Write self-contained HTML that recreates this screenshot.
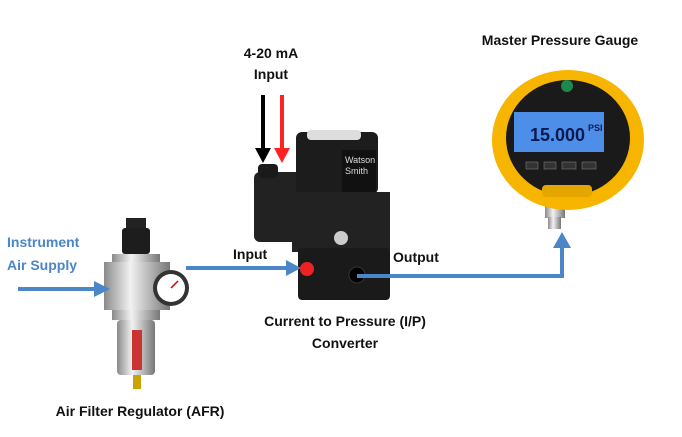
<!DOCTYPE html>
<html><head><style>
html,body{margin:0;padding:0;background:#fff;}
svg{display:block;}
text{font-family:"Liberation Sans",sans-serif;font-weight:bold;font-size:14px;fill:#111;}
</style></head><body>
<svg width="682" height="437" viewBox="0 0 682 437">
<defs>
<linearGradient id="met" x1="0" x2="1"><stop offset="0" stop-color="#8a8a8a"/><stop offset=".4" stop-color="#f2f2f2"/><stop offset="1" stop-color="#777"/></linearGradient>
</defs>
<text x="7" y="247" style="fill:#4a86c8">Instrument</text>
<text x="7" y="270" style="fill:#4a86c8">Air Supply</text>
<text x="271" y="58" text-anchor="middle">4-20 mA</text>
<text x="271" y="79" text-anchor="middle">Input</text>
<text x="560" y="45" text-anchor="middle">Master Pressure Gauge</text>
<text x="233" y="259">Input</text>
<text x="393" y="262">Output</text>
<text x="345" y="326" text-anchor="middle">Current to Pressure (I/P)</text>
<text x="345" y="348" text-anchor="middle">Converter</text>
<text x="140" y="416" text-anchor="middle">Air Filter Regulator (AFR)</text>

<!-- AFR -->
<rect x="126" y="218" width="20" height="12" fill="#222"/>
<rect x="122" y="228" width="28" height="26" rx="3" fill="#1d1d1d"/>
<rect x="112" y="254" width="48" height="8" fill="url(#met)"/>
<rect x="104" y="262" width="66" height="48" fill="url(#met)"/>
<rect x="112" y="310" width="48" height="10" fill="url(#met)"/>
<rect x="117" y="320" width="38" height="55" rx="4" fill="url(#met)"/>
<rect x="132" y="330" width="10" height="40" fill="#c33"/>
<rect x="133" y="375" width="8" height="14" fill="#c8a400"/>
<circle cx="171" cy="288" r="18" fill="#333"/>
<circle cx="171" cy="288" r="14" fill="#fff"/>
<line x1="171" y1="288" x2="178" y2="281" stroke="#c00" stroke-width="1.5"/>

<!-- converter -->
<rect x="254" y="172" width="48" height="70" rx="6" fill="#222"/>
<rect x="258" y="164" width="20" height="14" rx="4" fill="#1a1a1a"/>
<rect x="296" y="132" width="82" height="62" rx="6" fill="#1c1c1c"/>
<rect x="307" y="130" width="54" height="10" rx="4" fill="#ddd"/>
<rect x="342" y="150" width="34" height="42" fill="#111"/>
<text x="345" y="163" style="fill:#ddd;font-size:9px;font-weight:normal">Watson</text>
<text x="345" y="174" style="fill:#ddd;font-size:9px;font-weight:normal">Smith</text>
<rect x="292" y="192" width="98" height="60" fill="#222"/>
<circle cx="341" cy="238" r="7" fill="#ccc"/>
<rect x="298" y="248" width="92" height="52" rx="4" fill="#1a1a1a"/>
<circle cx="307" cy="269" r="7" fill="#e22"/>
<circle cx="357" cy="275" r="8" fill="#000" stroke="#333"/>

<line x1="263" y1="95" x2="263" y2="150" stroke="#000" stroke-width="4"/>
<polygon points="255,148 271,148 263,163" fill="#000"/>
<line x1="282" y1="95" x2="282" y2="150" stroke="#f22" stroke-width="4"/>
<polygon points="274,148 290,148 282,163" fill="#f22"/>

<line x1="18" y1="289" x2="96" y2="289" stroke="#4a86c8" stroke-width="4"/>
<polygon points="94,281 110,289 94,297" fill="#4a86c8"/>
<line x1="186" y1="268" x2="288" y2="268" stroke="#4a86c8" stroke-width="4"/>
<polygon points="286,260 301,268 286,276" fill="#4a86c8"/>
<polyline points="357,276 562,276 562,245" fill="none" stroke="#4a86c8" stroke-width="4"/>
<polygon points="553,248 562,232 571,248" fill="#4a86c8"/>

<!-- gauge -->
<rect x="545" y="200" width="20" height="18" fill="url(#met)"/>
<rect x="548" y="217" width="13" height="12" fill="url(#met)"/>
<ellipse cx="568" cy="140" rx="76" ry="70" fill="#f7b500"/>
<ellipse cx="568" cy="138" rx="62" ry="58" fill="#1a1a1a"/>
<circle cx="567" cy="86" r="6" fill="#1b8a4a"/>
<rect x="514" y="112" width="90" height="40" fill="#4d8ee8"/>
<text x="530" y="141" style="fill:#0a1a50;font-size:18px">15.000</text>
<text x="588" y="131" style="fill:#0a1a50;font-size:9px">PSI</text>
<rect x="526" y="162" width="12" height="7" fill="#333" stroke="#888" stroke-width=".5"/>
<rect x="544" y="162" width="12" height="7" fill="#333" stroke="#888" stroke-width=".5"/>
<rect x="562" y="162" width="14" height="7" fill="#333" stroke="#888" stroke-width=".5"/>
<rect x="582" y="162" width="14" height="7" fill="#333" stroke="#888" stroke-width=".5"/>
<rect x="542" y="185" width="50" height="12" rx="4" fill="#e6a600"/>
</svg>
</body></html>
